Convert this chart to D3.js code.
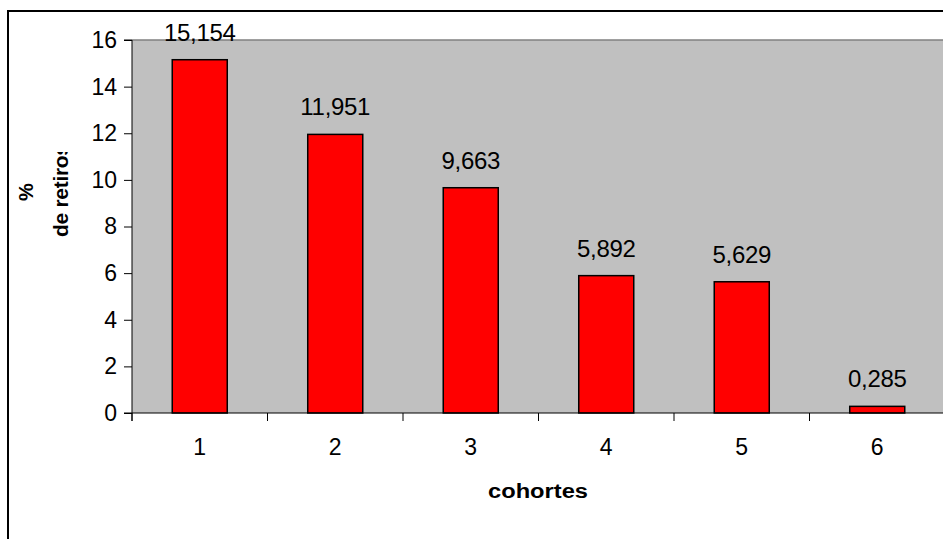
<!DOCTYPE html>
<html lang="es">
<head>
<meta charset="UTF-8">
<title>% de retiros por cohortes</title>
<script src="https://d3js.org/d3.v7.min.js"></script>
<style>
  body { margin: 0; background: #fff; }
  text { font-family: Arial, "Liberation Sans", sans-serif; }
</style>
</head>
<body>
<svg id="main" width="943" height="539"></svg>
<script>
    // data
    let cohortes = ['1', '2', '3', '4', '5', '6'];
    let retiros = [15.154, 11.951, 9.663, 5.892, 5.629, 0.285];
    let yTicks = [0, 2, 4, 6, 8, 10, 12, 14, 16];

    let svg = d3.select('#main');
    let plot = {left: 132, top: 40, right: 945, bottom: 413};

    // outer chart frame (runs off the right and bottom edges)
    svg.append('rect')
        .attr('x', 8).attr('y', 11)
        .attr('width', 960).attr('height', 560)
        .attr('fill', 'none').attr('stroke', '#000').attr('stroke-width', 2);

    let xScale = d3.scaleBand().domain(cohortes)
        .range([plot.left, plot.right])
        .paddingInner(0.594).paddingOuter(0.297);
    let bandScale = d3.scaleBand().domain(cohortes).range([plot.left, plot.right]);
    let yScale = d3.scaleLinear().domain([0, 16]).range([plot.bottom, plot.top]);

    // grey plot area
    svg.append('rect')
        .attr('x', plot.left).attr('y', plot.top)
        .attr('width', plot.right - plot.left).attr('height', plot.bottom - plot.top)
        .attr('fill', '#c0c0c0');
    svg.append('line')
        .attr('x1', plot.left).attr('x2', plot.right)
        .attr('y1', plot.top).attr('y2', plot.top)
        .attr('stroke', '#808080').attr('stroke-width', 1.5);

    // bars
    svg.selectAll('rect.bar')
        .data(retiros)
        .enter()
        .append('rect')
        .attr('class', 'bar')
        .attr('x', function(d, i){ return xScale(cohortes[i]); })
        .attr('y', function(d){ return yScale(d); })
        .attr('width', xScale.bandwidth())
        .attr('height', function(d){ return yScale(0) - yScale(d); })
        .attr('fill', '#ff0000')
        .attr('stroke', '#000')
        .attr('stroke-width', 1.5);

    // value labels
    svg.selectAll('text.val')
        .data(retiros)
        .enter()
        .append('text')
        .attr('class', 'val')
        .attr('x', function(d, i){ return xScale(cohortes[i]) + xScale.bandwidth() / 2; })
        .attr('y', function(d){ return yScale(d) - 19; })
        .attr('text-anchor', 'middle')
        .attr('font-size', 24)
        .attr('letter-spacing', -0.3)
        .text(function(d){ return d3.format('.3f')(d).replace('.', ','); });

    // y axis
    let yAxis = svg.append('g')
        .attr('transform', 'translate(' + plot.left + ',0)')
        .call(d3.axisLeft(yScale).tickValues(yTicks).tickSize(8).tickPadding(7).tickFormat(d3.format('d')));
    yAxis.selectAll('text').attr('font-size', 23).attr('fill', '#000')
        .attr('font-family', 'Arial, "Liberation Sans", sans-serif');
    yAxis.selectAll('line').attr('stroke', '#000');
    yAxis.select('.domain').attr('stroke', '#000').attr('d', 'M-8,' + plot.top + 'H0V' + (plot.bottom + 8));

    // x axis: ticks at band boundaries, labels in band centres
    let xAxis = svg.append('g').attr('transform', 'translate(0,' + plot.bottom + ')');
    xAxis.append('line')
        .attr('x1', plot.left - 8).attr('x2', plot.right)
        .attr('stroke', '#000').attr('stroke-width', 1);
    xAxis.selectAll('line.tick')
        .data(cohortes)
        .enter()
        .append('line')
        .attr('class', 'tick')
        .attr('x1', function(d){ return bandScale(d); })
        .attr('x2', function(d){ return bandScale(d); })
        .attr('y1', 0).attr('y2', 8)
        .attr('stroke', '#000');
    xAxis.selectAll('text')
        .data(cohortes)
        .enter()
        .append('text')
        .attr('x', function(d){ return bandScale(d) + bandScale.bandwidth() / 2; })
        .attr('y', 42)
        .attr('text-anchor', 'middle')
        .attr('font-size', 23)
        .text(function(d){ return d; });

    // axis titles
    svg.append('text')
        .attr('x', 538).attr('y', 498)
        .attr('text-anchor', 'middle')
        .attr('font-size', 20).attr('font-weight', 'bold')
        .attr('textLength', 100).attr('lengthAdjust', 'spacingAndGlyphs')
        .text('cohortes');

    svg.append('clipPath').attr('id', 'ylab')
        .append('rect').attr('x', 0).attr('y', 152).attr('width', 120).attr('height', 200);
    let yTitle = svg.append('g').attr('clip-path', 'url(#ylab)');
    yTitle.append('text')
        .attr('transform', 'translate(33,192) rotate(-90)')
        .attr('text-anchor', 'middle')
        .attr('font-size', 20).attr('font-weight', 'bold')
        .text('%');
    yTitle.append('text')
        .attr('transform', 'translate(68,237) rotate(-90)')
        .attr('text-anchor', 'start')
        .attr('font-size', 21).attr('font-weight', 'bold')
        .attr('letter-spacing', -0.3)
        .text('de retiros');
</script>
</body>
</html>
